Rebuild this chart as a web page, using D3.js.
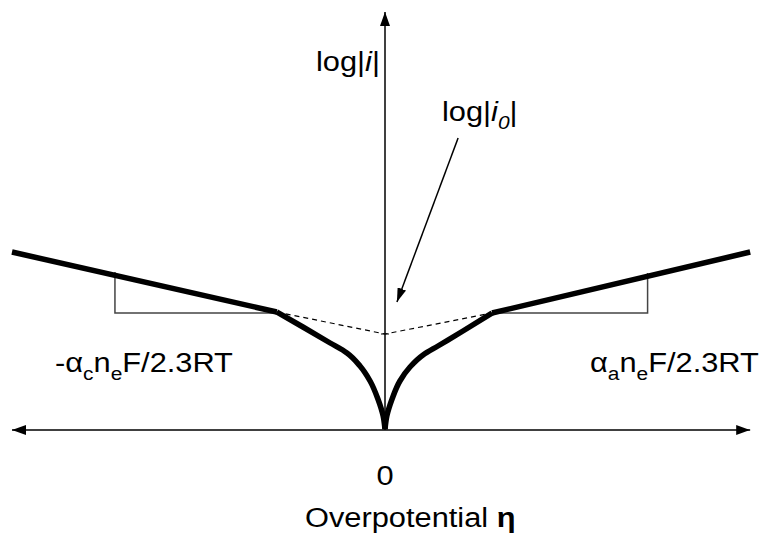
<!DOCTYPE html>
<html>
<head>
<meta charset="utf-8">
<script src="https://cdn.jsdelivr.net/npm/d3@7"></script>
<style>
  body { margin: 0; background: #fff; }
  svg { display: block; }
  text { font-family: "Liberation Sans", Arial, sans-serif; fill: #000; }
</style>
</head>
<body>
<script>
// overpotential (eta) and log|i| values
const etaAxis = [-1.0, 0.979];
const logAxis = [0, 10.45];
const logI0 = 2.4;

const tafelCathodic = [[-1.0, 4.45], [-0.29, 2.95]];
const curveCathodic = [[-0.29, 2.95], [-0.22, 2.575], [-0.147, 2.175], [-0.102, 1.925],
  [-0.067, 1.6], [-0.04, 1.225], [-0.019, 0.775], [-0.005, 0.35], [0, 0.02]];
const curveAnodic = [[0.287, 2.925], [0.209, 2.475], [0.142, 2.1], [0.102, 1.875],
  [0.067, 1.575], [0.04, 1.225], [0.019, 0.775], [0.005, 0.35], [0, 0.02]];
const tafelAnodic = [[0.287, 2.925], [0.979, 4.45]];
const extrapolation = [[-0.29, 2.95], [0, logI0], [0.287, 2.925]];

const slopeCathodic = [[-0.724, 3.95], [-0.724, 2.925], [-0.29, 2.925]];
const slopeAnodic = [[0.287, 2.925], [0.704, 2.925], [0.704, 3.925]];

// pointer from the log|i0| label to the intercept
const pointer = [[0.196, 7.3], [0.032, 3.2]];

const width = 760, height = 534;
const x = d3.scaleLinear().domain([-1, 1]).range([12, 758]);
const y = d3.scaleLinear().domain([0, 10]).range([430, 30]);

const svg = d3.select("body").append("svg")
  .attr("width", width)
  .attr("height", height);

const defs = svg.append("defs");
function arrowMarker(id, len, wid) {
  defs.append("marker")
    .attr("id", id)
    .attr("markerUnits", "userSpaceOnUse")
    .attr("viewBox", `0 ${-wid/2} ${len} ${wid}`)
    .attr("refX", len)
    .attr("refY", 0)
    .attr("markerWidth", len)
    .attr("markerHeight", wid)
    .attr("orient", "auto-start-reverse")
    .append("path")
    .attr("d", `M0,${-wid/2}L${len},0L0,${wid/2}Z`)
    .attr("fill", "#000");
}
arrowMarker("axisArrow", 14, 10);
arrowMarker("ptrArrow", 14, 9);

const line = d3.line().x(d => x(d[0])).y(d => y(d[1]));
// y-monotone spline so the branches run into the cusp vertically
const smooth = d3.line().x(d => x(d[0])).y(d => y(d[1])).curve(d3.curveMonotoneY);

// axes
svg.append("line")
  .attr("x1", x(etaAxis[0])).attr("x2", x(etaAxis[1]))
  .attr("y1", y(0)).attr("y2", y(0))
  .attr("stroke", "#000").attr("stroke-width", 1.5)
  .attr("marker-start", "url(#axisArrow)")
  .attr("marker-end", "url(#axisArrow)");

svg.append("line")
  .attr("x1", x(0)).attr("x2", x(0))
  .attr("y1", y(logAxis[0])).attr("y2", y(logAxis[1]))
  .attr("stroke", "#000").attr("stroke-width", 1.5)
  .attr("marker-end", "url(#axisArrow)");

// small tick at log|i0|
svg.append("line")
  .attr("x1", x(0) - 4).attr("x2", x(0) + 4)
  .attr("y1", y(logI0)).attr("y2", y(logI0))
  .attr("stroke", "#000").attr("stroke-width", 1);

// slope triangles
[slopeCathodic, slopeAnodic].forEach(t => {
  svg.append("path")
    .attr("d", line(t))
    .attr("fill", "none")
    .attr("stroke", "#444")
    .attr("stroke-width", 1.5);
});

// extrapolated tafel lines
svg.append("path")
  .attr("d", line(extrapolation))
  .attr("fill", "none")
  .attr("stroke", "#000")
  .attr("stroke-width", 1.2)
  .attr("stroke-dasharray", "5,4");

// the current curve
[[tafelCathodic, line], [curveCathodic, smooth], [curveAnodic, smooth], [tafelAnodic, line]]
  .forEach(([pts, gen]) => {
    svg.append("path")
      .attr("d", gen(pts))
      .attr("fill", "none")
      .attr("stroke", "#000")
      .attr("stroke-width", 5.5)
      .attr("stroke-linejoin", "round");
  });

// pointer arrow
svg.append("line")
  .attr("x1", x(pointer[0][0])).attr("y1", y(pointer[0][1]))
  .attr("x2", x(pointer[1][0])).attr("y2", y(pointer[1][1]))
  .attr("stroke", "#000").attr("stroke-width", 1.5)
  .attr("marker-end", "url(#ptrArrow)");

// labels (the picture is stretched a little horizontally)
const sx = 1.1, fs = 28;
function label(px, py, parts, anchor) {
  const t = svg.append("text")
    .attr("transform", `translate(${px},${py}) scale(${sx},1)`)
    .attr("font-size", fs)
    .attr("text-anchor", anchor || "start");
  parts.forEach(p => {
    const s = t.append("tspan").text(p.t);
    if (p.i) s.attr("font-style", "italic");
    if (p.b) s.attr("font-weight", "bold");
    if (p.sub) s.attr("font-size", 19).attr("dy", 8);
    if (p.up) s.attr("dy", -8);
  });
  return t;
}

label(316, 71, [{t: "log|"}, {t: "i", i: true}, {t: "|"}]);
label(442, 121, [{t: "log|"}, {t: "i", i: true}, {t: "0", i: true, sub: true}, {t: "|", up: true}]);
label(55, 372, [{t: "-α"}, {t: "c", sub: true}, {t: "n", up: true}, {t: "e", sub: true}, {t: "F/2.3RT", up: true}]);
label(590, 372, [{t: "α"}, {t: "a", sub: true}, {t: "n", up: true}, {t: "e", sub: true}, {t: "F/2.3RT", up: true}]);
label(x(0), 485, [{t: "0"}], "middle");
label(305, 527, [{t: "Overpotential "}, {t: "η", b: true}]);
</script>
</body>
</html>
